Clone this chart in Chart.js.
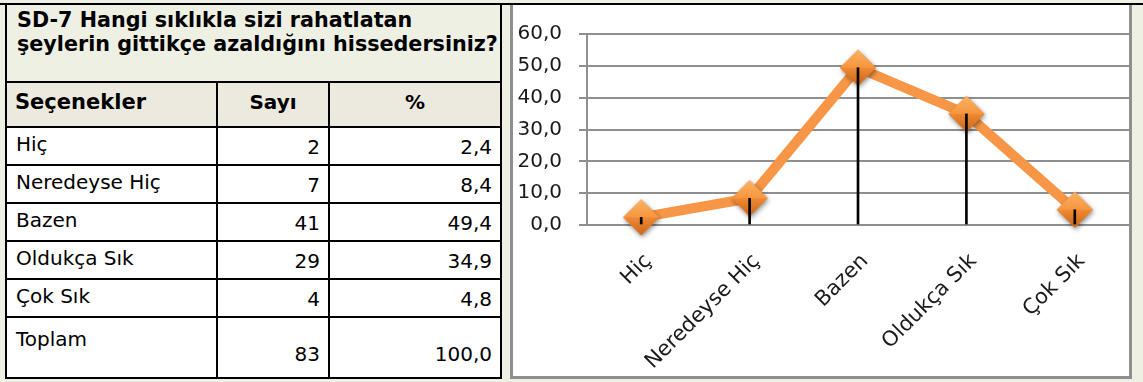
<!DOCTYPE html>
<html lang="tr">
<head>
<meta charset="utf-8">
<title>SD-7 Hangi sıklıkla sizi rahatlatan şeylerin gittikçe azaldığını hissedersiniz?</title>
<script src="https://cdn.jsdelivr.net/npm/chart.js@4.4.1/dist/chart.umd.min.js"></script>
<style>
  html, body { margin: 0; padding: 0; }
  body {
    width: 1143px; height: 382px; position: relative; overflow: hidden;
    background: #EEF0E4; font-family: "DejaVu Sans", sans-serif; color: #000;
  }
  #ustcizgi { position: absolute; left: 0; top: 3px; width: 1143px; height: 2px; background: #000; }
  #tablo { position: absolute; left: 5px; top: 3px; width: 497px; border-collapse: collapse; table-layout: fixed; background: #fff; }
  #tablo td { border: 2px solid #000; padding: 0; font-size: 20px; line-height: 24px; overflow: hidden; white-space: nowrap; }
  #tablo td.baslik { background: #EEF0E4; font-weight: bold; font-size: 20.7px; vertical-align: top; padding: 3px 0 0 10px; }
  #tablo td.ad { vertical-align: top; padding: 4px 0 0 9px; }
  #tablo td.sayi { vertical-align: bottom; text-align: right; padding: 0 8px 5px 0; }
  #tablo tr.kolon td { background: #ECEADF; font-weight: bold; vertical-align: top; padding-top: 7px; }
  #tablo tr.kolon td.ad { font-size: 21px; padding-left: 8px; }
  #tablo tr.kolon td.orta { text-align: center; }
  #tablo tr.toplam td.ad { padding-top: 9px; }
  #tablo tr.toplam td.sayi { padding-bottom: 11px; }
  #grafik { position: absolute; left: 510px; top: 5px; width: 616px; height: 371px; background: #fff; border: 3px solid #8F8F8F; border-top: none; }
  #grafik canvas { display: block; }
</style>
</head>
<body>
<div id="ustcizgi"></div>
<table id="tablo">
  <colgroup><col style="width:211px"><col style="width:112px"><col style="width:172px"></colgroup>
  <tbody id="govde">
    <tr style="height:78px"><td class="baslik" colspan="3">SD-7 Hangi sıklıkla sizi rahatlatan<br>şeylerin gittikçe azaldığını hissedersiniz?</td></tr>
    <tr class="kolon" style="height:45px"><td class="ad">Seçenekler</td><td class="orta">Sayı</td><td class="orta">%</td></tr>
  </tbody>
</table>
<div id="grafik"><canvas id="cizim" width="616" height="371"></canvas></div>

<script>
// Seçenekler ve değerler
var secenekler = ['Hiç', 'Neredeyse Hiç', 'Bazen', 'Oldukça Sık', 'Çok Sık'];
var sayilar = [2, 7, 41, 29, 4];
var yuzdeler = [2.4, 8.4, 49.4, 34.9, 4.8];
var toplamSayi = 83;
var toplamYuzde = 100.0;

// y ekseni: 0,0 ... 60,0
var yEksenMin = 0;
var yEksenMax = 60;
var yEksenAdim = 10;

var yaziTipi = '"DejaVu Sans", sans-serif';

function virgul(v) {
    return Number(v).toFixed(1).replace('.', ',');
}

// Tablo satırlarını oluştur
function satirEkle(ad, sayi, yuzde, yukseklik, sinif) {
    var tr = document.createElement('tr');
    tr.style.height = yukseklik + 'px';
    if (sinif) tr.className = sinif;
    var hucreler = [[ad, 'ad'], [String(sayi), 'sayi'], [virgul(yuzde), 'sayi']];
    for (var i = 0; i < hucreler.length; i++) {
        var td = document.createElement('td');
        td.className = hucreler[i][1];
        td.textContent = hucreler[i][0];
        tr.appendChild(td);
    }
    document.getElementById('govde').appendChild(tr);
}

for (var i = 0; i < secenekler.length; i++) {
    satirEkle(secenekler[i], sayilar[i], yuzdeler[i], 38);
}
satirEkle('Toplam', toplamSayi, toplamYuzde, 61, 'toplam');

// Kabartmalı turuncu elmas işaretçi
function elmas(r) {
    var pay = 6;
    var c = document.createElement('canvas');
    c.width = c.height = 2 * (r + pay);
    var g = c.getContext('2d');
    var m = r + pay;

    g.shadowColor = 'rgba(0,0,0,0.45)';
    g.shadowBlur = 5;
    g.shadowOffsetX = 1;
    g.shadowOffsetY = 2;
    g.beginPath();
    g.moveTo(m, m - r); g.lineTo(m + r, m); g.lineTo(m, m + r); g.lineTo(m - r, m);
    g.closePath();
    g.fillStyle = '#E8802B';
    g.fill();
    g.shadowColor = 'transparent';

    // üst yarı daha açık
    g.beginPath();
    g.moveTo(m, m - r); g.lineTo(m + r, m); g.lineTo(m - r, m);
    g.closePath();
    var ust = g.createLinearGradient(0, m - r, 0, m);
    ust.addColorStop(0, '#FBB264');
    ust.addColorStop(1, '#F7963F');
    g.fillStyle = ust;
    g.fill();

    // alt yarı daha koyu
    g.beginPath();
    g.moveTo(m - r, m); g.lineTo(m + r, m); g.lineTo(m, m + r);
    g.closePath();
    var alt = g.createLinearGradient(0, m, 0, m + r);
    alt.addColorStop(0, '#F08A34');
    alt.addColorStop(1, '#C8651A');
    g.fillStyle = alt;
    g.fill();
    return c;
}

var ctx = document.getElementById('cizim').getContext('2d');
var grafik = new Chart(ctx, {
    type: 'line',
    data: {
        labels: secenekler,
        datasets: [
            {
                // noktadan eksene inen siyah çizgiler
                type: 'bar',
                data: yuzdeler,
                backgroundColor: '#000',
                barThickness: 2,
                order: 0
            },
            {
                type: 'line',
                data: yuzdeler,
                borderColor: '#F79646',
                borderWidth: 10,
                borderJoinStyle: 'round',
                tension: 0,
                pointStyle: elmas(18),
                pointRadius: 18,
                clip: false,
                order: 1
            }
        ]
    },
    options: {
        responsive: false,
        animation: false,
        layout: {
            autoPadding: false,
            padding: { top: 28, right: 0, bottom: 0, left: 0 }
        },
        plugins: {
            legend: { display: false },
            tooltip: { enabled: false }
        },
        scales: {
            x: {
                offset: true,
                grid: { display: false, drawTicks: false },
                border: { color: '#8F8F8F', width: 2 },
                ticks: {
                    minRotation: 45,
                    maxRotation: 45,
                    padding: 24,
                    labelOffset: 7,
                    color: '#1A1A1A',
                    font: { family: yaziTipi, size: 21 }
                },
                afterFit: function (s) {
                    // eğik etiketler için ayrılan yan boşlukları kaldır
                    s.height = 151;
                    s.paddingLeft = 0;
                    s.paddingRight = 0;
                }
            },
            y: {
                min: yEksenMin,
                max: yEksenMax,
                grid: { color: '#8F8F8F', lineWidth: 2, tickLength: 8 },
                border: { color: '#8F8F8F', width: 2 },
                ticks: {
                    stepSize: yEksenAdim,
                    padding: 17,
                    color: '#1A1A1A',
                    font: { family: yaziTipi, size: 20 },
                    callback: function (v) { return virgul(v); }
                },
                afterFit: function (s) { s.width = 74; }
            }
        }
    }
});
</script>
</body>
</html>
